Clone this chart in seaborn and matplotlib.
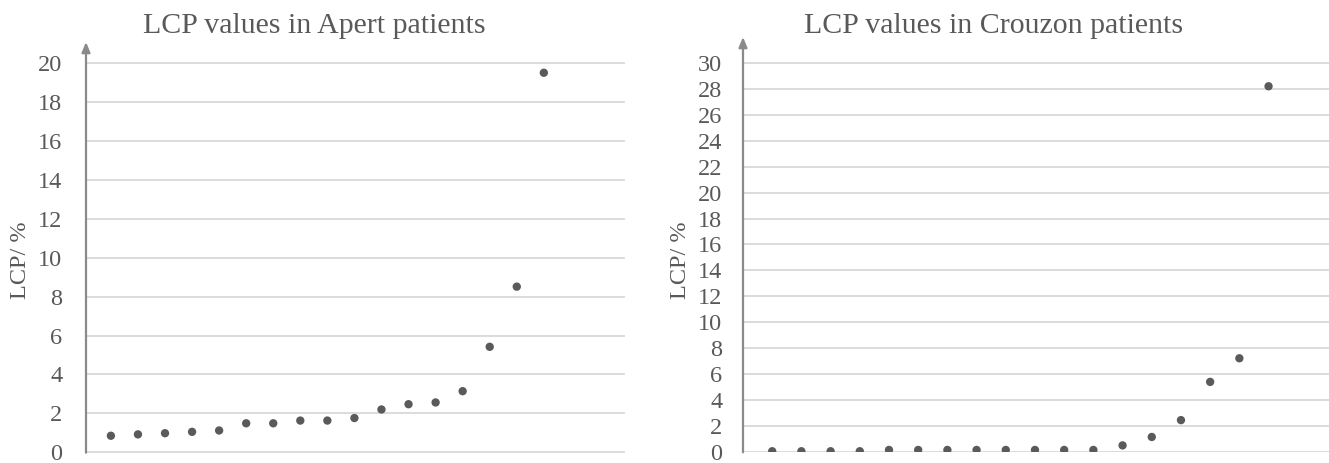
import numpy as np
import pandas as pd
import matplotlib
matplotlib.use("Agg")
import matplotlib.pyplot as plt
import seaborn as sns

# LCP values, one per patient, sorted
apert_lcp = [0.85, 0.92, 0.98, 1.05, 1.12, 1.49, 1.49, 1.63, 1.63, 1.76,
             2.20, 2.47, 2.56, 3.14, 5.42, 8.51, 19.5]
crouzon_lcp = [0.05, 0.05, 0.05, 0.05, 0.15, 0.15, 0.15, 0.15, 0.15, 0.15,
               0.15, 0.15, 0.50, 1.15, 2.45, 5.40, 7.22, 28.2]

titles = ["LCP values in Apert patients", "LCP values in Crouzon patients"]
ylabel = "LCP/ %"

sns.set_style("white")
plt.rcParams["font.family"] = ["Liberation Serif", "DejaVu Serif"]

text_col = "#595959"
grid_col = "#d9d9d9"
axis_col = "#8a8a8a"
dot_col = "#5a5a5a"

W, H = 1329, 463
fig = plt.figure(figsize=(W / 100, H / 100), dpi=100)

panels = [
    dict(rect=[86 / W, 10.3 / H, 539 / W, 410.7 / H], data=apert_lcp,
         xlim=(0.08, 20), ytop=21.08, yticks=np.arange(0, 21, 2),
         tx=314 / W, pad=17, lx=21 / W),
    dict(rect=[743 / W, 10.7 / H, 586 / W, 415.3 / H], data=crouzon_lcp,
         xlim=(0, 20.07), ytop=32.0, yticks=np.arange(0, 31, 2),
         tx=994 / W, pad=15, lx=681 / W),
]

for p, title in zip(panels, titles):
    ax = fig.add_axes(p["rect"])
    df = pd.DataFrame({"patient": np.arange(1, len(p["data"]) + 1), "lcp": p["data"]})
    sns.scatterplot(data=df, x="patient", y="lcp", ax=ax, color=dot_col,
                    s=36, edgecolor="none", zorder=3)
    ax.set_xlim(*p["xlim"])
    ax.set_ylim(-0.02 * p["ytop"] / 20, p["ytop"])
    ax.set_yticks(p["yticks"])
    ax.set_yticklabels([str(v) for v in p["yticks"]])
    ax.set_xticks([])
    ax.set_xlabel("")
    ax.set_ylabel("")
    ax.yaxis.grid(True, color=grid_col, lw=1.3)
    ax.set_axisbelow(True)
    for side in ["top", "right", "bottom", "left"]:
        ax.spines[side].set_visible(False)
    ax.tick_params(axis="y", length=0, pad=p["pad"], labelsize=17.5, labelcolor=text_col)
    ax.annotate("", xy=(p["xlim"][0], 1), xytext=(p["xlim"][0], 0),
                xycoords=("data", "axes fraction"),
                arrowprops=dict(arrowstyle="-|>,head_length=0.6,head_width=0.25",
                                color=axis_col, lw=1.6, shrinkA=0, shrinkB=0))
    fig.text(p["tx"], (H - 33) / H, title, ha="center", va="baseline",
             fontsize=21.5, color=text_col)
    fig.text(p["lx"], (H - 260) / H, ylabel, rotation=90, ha="center",
             va="center", fontsize=17.5, color=text_col)

fig.savefig("out.png", dpi=100)
